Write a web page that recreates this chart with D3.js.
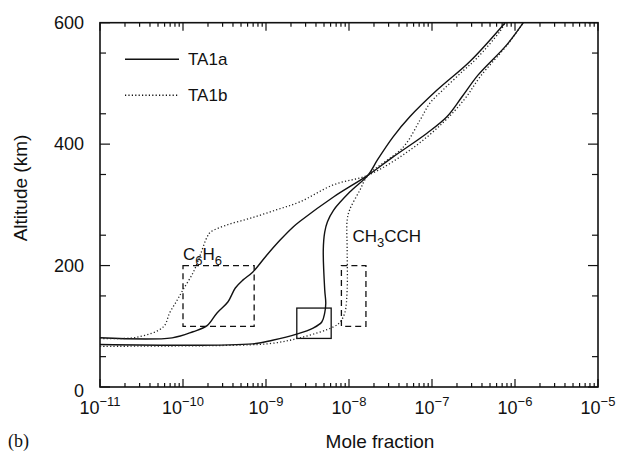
<!DOCTYPE html>
<html>
<head>
<meta charset="utf-8">
<script src="https://cdn.jsdelivr.net/npm/d3@7"></script>
<style>
  body { margin: 0; background: #fff; }
  svg text { font-family: "Liberation Sans", Arial, sans-serif; fill: #111; }
</style>
</head>
<body>
<svg id="chart" width="618" height="453"></svg>
<script>
// [mole fraction, altitude km]
var c6h6_ta1a = [[1.0e-11,81],[7.4e-11,81],[1.32e-10,91],[1.95e-10,101],[2.57e-10,122],[3.47e-10,140],
    [4.27e-10,163],[5.25e-10,176],[6.9e-10,189],[1.02e-9,217],[1.48e-9,242],[2.14e-9,264],[2.57e-9,273],
    [6.5e-9,313],[1.7e-8,349],[3.4e-8,379],[8.7e-8,418],[1.51e-7,445],[2.3e-7,478],[3.6e-7,514],
    [7.9e-7,563],[1.26e-6,600]];
var c6h6_ta1b = [[1.0e-11,80],[2.8e-11,82],[5.8e-11,99],[6.9e-11,122],[8.5e-11,143],[1.0e-10,160],
    [1.32e-10,188],[1.58e-10,214],[1.95e-10,247],[2.14e-10,255],[3.4e-10,267],[6.5e-10,278],[1.35e-9,292],
    [2.57e-9,305],[6.5e-9,333],[1.7e-8,349],[5.4e-8,390],[1.35e-7,435],[2.5e-7,475],[3.8e-7,511],
    [7.9e-7,562],[1.26e-6,600]];
var ch3cch_ta1a = [[1.0e-11,70],[6.9e-10,71],[1.2e-9,77],[2.34e-9,87],[3.7e-9,97],[4.7e-9,107],
    [5.1e-9,122],[5.25e-9,138],[5.1e-9,160],[4.9e-9,226],[5.1e-9,255],[5.5e-9,272],[6.5e-9,291],
    [1.02e-8,321],[1.7e-8,349],[2.2e-8,374],[3.4e-8,412],[5.4e-8,445],[1.15e-7,489],[2.9e-7,537],
    [7.6e-7,600]];
var ch3cch_ta1b = [[1.0e-11,67],[4.9e-10,69],[1.2e-9,72],[2.57e-9,81],[6.5e-9,99],[7.8e-9,107],
    [8.9e-9,122],[9.5e-9,160],[9.5e-9,226],[9.5e-9,275],[1.02e-8,292],[1.35e-8,324],[1.7e-8,349],
    [4.5e-8,395],[7.2e-8,440],[9.5e-8,468],[1.35e-7,489],[2.34e-7,520],[3.5e-7,542],[6.6e-7,586],
    [7.6e-7,600]];

// observation boxes: [x0, x1, alt0, alt1]
var box_c6h6 = [1.0e-10, 7.2e-10, 100, 200];
var box_ch3cch = [8.1e-9, 1.6e-8, 100, 200];
var box_solid = [2.35e-9, 6.1e-9, 80, 130];

var xDecades = [-11, -10, -9, -8, -7, -6, -5];
var yTicks = [0, 200, 400, 600];

var margin = {top: 22.7, right: 20, bottom: 66, left: 100};
var width = 618 - margin.left - margin.right;
var height = 453 - margin.top - margin.bottom;

var svg = d3.select("#chart");
var g = svg.append("g").attr("transform", "translate(" + margin.left + "," + margin.top + ")");

var x = d3.scaleLog().domain([1e-11, 1e-5]).range([0, width]);
var y = d3.scaleLinear().domain([0, 600]).range([height, 0]);

// minor ticks
var xMinor = [];
xDecades.slice(0, -1).forEach(function (e) {
    for (var k = 2; k <= 9; k++) xMinor.push(k * Math.pow(10, e));
});
var xMajor = xDecades.map(function (e) { return Math.pow(10, e); });
var yMinor = d3.range(50, 600, 100);

function tickLines(sel, vals, x1, y1, x2, y2) {
    sel.selectAll(null).data(vals).enter().append("line")
        .attr("x1", x1).attr("y1", y1).attr("x2", x2).attr("y2", y2)
        .attr("stroke", "#111").attr("stroke-width", 1.2);
}
var ticks = g.append("g");
// bottom + top
tickLines(ticks, xMinor, function (d) { return x(d); }, height, function (d) { return x(d); }, height - 4);
tickLines(ticks, xMajor, function (d) { return x(d); }, height, function (d) { return x(d); }, height - 8);
tickLines(ticks, xMinor, function (d) { return x(d); }, 0, function (d) { return x(d); }, 4);
tickLines(ticks, xMajor, function (d) { return x(d); }, 0, function (d) { return x(d); }, 8);
// left + right
tickLines(ticks, yMinor, 0, function (d) { return y(d); }, 6, function (d) { return y(d); });
tickLines(ticks, yTicks, 0, function (d) { return y(d); }, 10, function (d) { return y(d); });
tickLines(ticks, yMinor, width, function (d) { return y(d); }, width - 6, function (d) { return y(d); });
tickLines(ticks, yTicks, width, function (d) { return y(d); }, width - 10, function (d) { return y(d); });

g.append("rect").attr("width", width).attr("height", height)
    .attr("fill", "none").attr("stroke", "#111").attr("stroke-width", 1.6);

// tick labels
g.selectAll(".ylab").data(yTicks).enter().append("text")
    .attr("x", -16).attr("y", function (d) { return y(d) + (d === 0 ? 10 : 6); })
    .attr("text-anchor", "end").style("font-size", "18px")
    .text(function (d) { return d; });

var xl = g.selectAll(".xlab").data(xDecades).enter().append("text")
    .attr("x", function (d) { return x(Math.pow(10, d)); })
    .attr("y", height + 27)
    .attr("text-anchor", "middle").style("font-size", "18px");
xl.append("tspan").text("10");
xl.append("tspan").attr("dy", -8).style("font-size", "13px")
    .text(function (d) { return "\u2212" + Math.abs(d); });

// boxes
function drawBox(b, dashed) {
    g.append("rect")
        .attr("x", x(b[0])).attr("y", y(b[3]))
        .attr("width", x(b[1]) - x(b[0])).attr("height", y(b[2]) - y(b[3]))
        .attr("fill", "none").attr("stroke", "#111").attr("stroke-width", 1.3)
        .attr("stroke-dasharray", dashed ? "6,4" : null);
}
drawBox(box_c6h6, true);
drawBox(box_ch3cch, true);
drawBox(box_solid, false);

// profiles
var line = d3.line()
    .x(function (d) { return x(d[0]); })
    .y(function (d) { return y(d[1]); })
    .curve(d3.curveCatmullRom.alpha(0.5));

[c6h6_ta1a, ch3cch_ta1a].forEach(function (s) {
    g.append("path").datum(s).attr("d", line)
        .attr("fill", "none").attr("stroke", "#111").attr("stroke-width", 1.4);
});
[c6h6_ta1b, ch3cch_ta1b].forEach(function (s) {
    g.append("path").datum(s).attr("d", line)
        .attr("fill", "none").attr("stroke", "#222").attr("stroke-width", 1.3)
        .attr("stroke-dasharray", "1.2,2.2");
});

// species labels
var t1 = g.append("text").attr("x", x(1.0e-10)).attr("y", y(209)).style("font-size", "17px");
t1.append("tspan").text("C");
t1.append("tspan").attr("dy", 5).style("font-size", "13px").text("6");
t1.append("tspan").attr("dy", -5).text("H");
t1.append("tspan").attr("dy", 5).style("font-size", "13px").text("6");

var t2 = g.append("text").attr("x", x(1.1e-8)).attr("y", y(239)).style("font-size", "17px");
t2.append("tspan").text("CH");
t2.append("tspan").attr("dy", 5).style("font-size", "13px").text("3");
t2.append("tspan").attr("dy", -5).text("CCH");

// legend
var legend = [["TA1a", null], ["TA1b", "1.2,2.2"]];
legend.forEach(function (l, i) {
    var ly = 36.6 + i * 36;
    g.append("line").attr("x1", 25).attr("x2", 79).attr("y1", ly).attr("y2", ly)
        .attr("stroke", "#111").attr("stroke-width", 1.4).attr("stroke-dasharray", l[1]);
    g.append("text").attr("x", 88).attr("y", ly + 6).style("font-size", "17px").text(l[0]);
});

// axis titles
svg.append("text").attr("x", 380).attr("y", 448).attr("text-anchor", "middle")
    .style("font-size", "19px").text("Mole fraction");
svg.append("text").attr("transform", "translate(27,188) rotate(-90)").attr("text-anchor", "middle")
    .style("font-size", "19px").text("Altitude (km)");
svg.append("text").attr("x", 8).attr("y", 447)
    .style("font-family", "'Liberation Serif', 'Times New Roman', serif").style("font-size", "18px").text("(b)");
</script>
</body>
</html>
